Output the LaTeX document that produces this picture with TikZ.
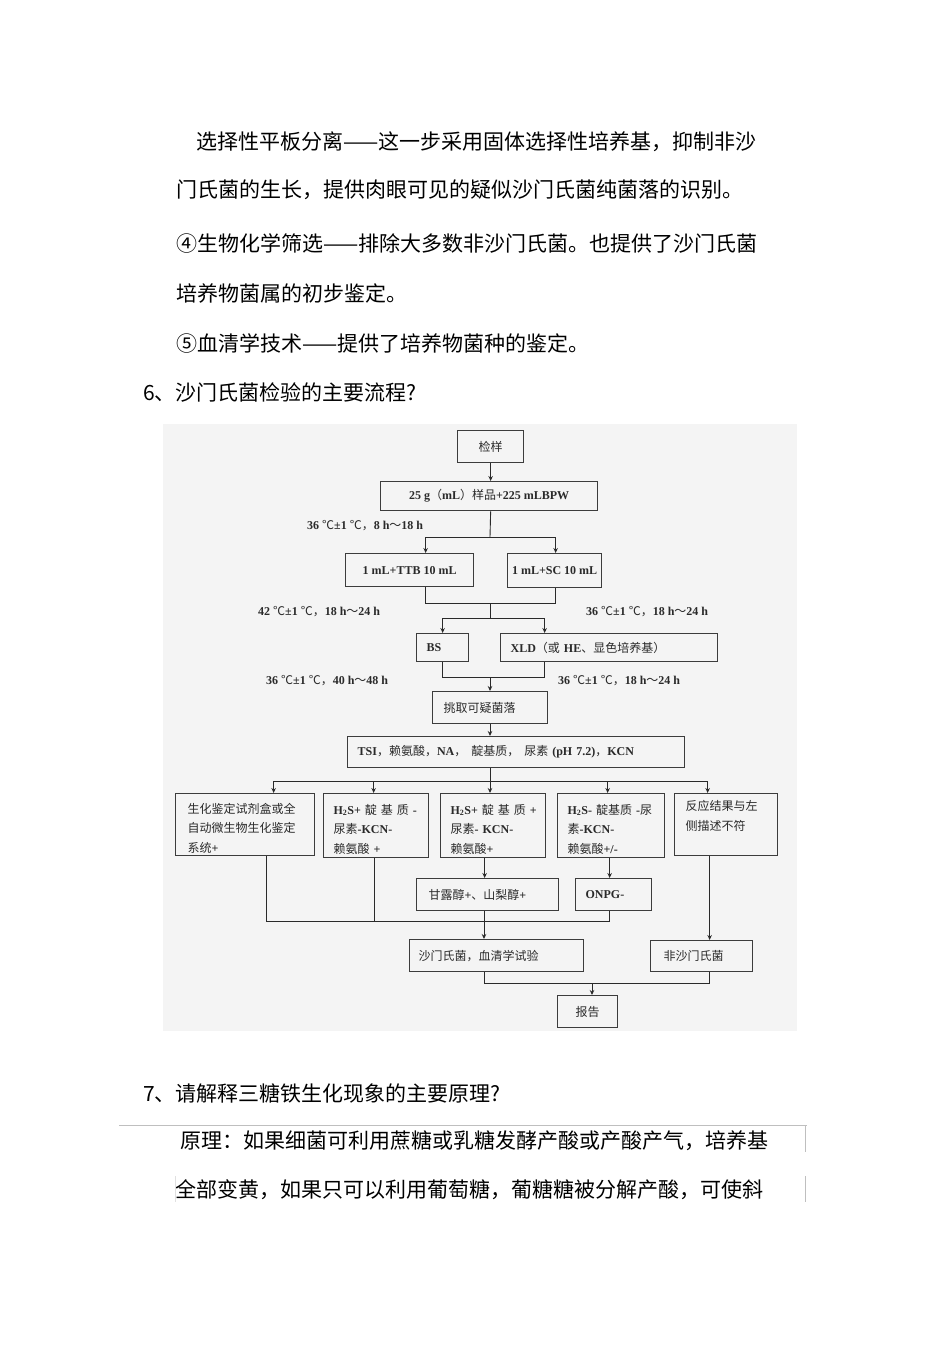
\documentclass[tikz,border=0pt]{standalone}
\usepackage{fontspec}
\setmainfont{Liberation Serif}
\newfontfamily\cjk{Noto Sans CJK SC}
\usetikzlibrary{arrows.meta}
\newcommand\zh[1]{{\cjk\mdseries #1}}
\newcommand\fcfont{\bfseries\fontsize{12}{19.5}\selectfont}
\newcommand\bodyfont{\cjk\fontsize{21}{21}\selectfont}
\newcommand\topgap{\rule{0pt}{17pt}}
\definecolor{txtc}{HTML}{2A2A2A}
\definecolor{boxc}{HTML}{3C3C3C}
\definecolor{linec}{HTML}{2A2A2A}
\definecolor{bgc}{HTML}{F4F4F4}
\tikzset{
  bodytxt/.style={font=\bodyfont, text=black, inner sep=0pt, anchor=west},
  fc/.style={font=\fcfont, text=txtc},
  box/.style={draw=boxc, line width=1.3pt, fc, inner sep=0pt, anchor=north west},
  lbox/.style={box, align=left},
  lbl/.style={fc, inner sep=0pt, anchor=west},
  conn/.style={draw=linec, line width=0.9pt},
  arr/.style={conn, -{Stealth[length=5pt,width=4.5pt]}},
}
\begin{document}
\begin{tikzpicture}[x=1pt,y=-1pt]
\useasboundingbox (0,0) rectangle (950,1345);
\fill[white] (0,0) rectangle (950,1345);

% body text
\node[bodytxt] (t1) at (196,142) {选择性平板分离——这一步采用固体选择性培养基，抑制非沙};
\node[bodytxt] (t2) at (176,190) {门氏菌的生长，提供肉眼可见的疑似沙门氏菌纯菌落的识别。};
\node[bodytxt] (t3) at (176,243) {④生物化学筛选——排除大多数非沙门氏菌。也提供了沙门氏菌};
\node[bodytxt] (t4) at (176,293) {培养物菌属的初步鉴定。};
\node[bodytxt] (t5) at (176,343) {⑤血清学技术——提供了培养物菌种的鉴定。};
\node[bodytxt] (t6) at (143,393) {6、沙门氏菌检验的主要流程?};
\node[bodytxt] (t7) at (143,1093) {7、请解释三糖铁生化现象的主要原理?};
\node[bodytxt] (t8) at (180,1141) {原理：如果细菌可利用蔗糖或乳糖发酵产酸或产酸产气，培养基};
\node[bodytxt] (t9) at (175,1190) {全部变黄，如果只可以利用葡萄糖，葡糖糖被分解产酸，可使斜};

\draw[black!25, line width=0.6pt] (119,1125) -- (807,1125);
\draw[black!25, line width=0.6pt] (805,1125) -- (805,1152);
\draw[black!25, line width=0.6pt] (805,1176) -- (805,1202);
\draw[black!12, line width=0.6pt] (175,1176) -- (175,1202);

% flowchart background
\fill[bgc] (163,424) rectangle (797,1031);

% boxes
\node[box, minimum width=66, minimum height=32] (jy) at (457,430) {\zh{检样}};
\node[box, minimum width=217, minimum height=29] (s25) at (380,481) {25 g\zh{（}mL\zh{）样品}+225 mLBPW};
\node[box, minimum width=128, minimum height=33] (ttb) at (345,553) {1 mL+TTB 10 mL};
\node[box, minimum width=94, minimum height=34] (sc) at (507,553) {1 mL+SC 10 mL};
\node[lbox, inner xsep=10pt, text width=32, minimum height=28] (bs) at (416,633) {BS};
\node[lbox, inner xsep=10pt, text width=197, minimum height=28] (xld) at (500,633) {XLD\zh{（或} HE\zh{、显色培养基）}};
\node[lbox, inner xsep=11pt, text width=93, minimum height=32] (tq) at (432,691) {\zh{挑取可疑菌落}};
\node[lbox, inner xsep=10pt, text width=317, minimum height=31] (tsi) at (347,736) {TSI\zh{，赖氨酸，}NA\zh{，}\hspace{5pt}\zh{靛基质，}\hspace{5pt}\zh{尿素} (pH 7.2)\zh{，}KCN};

\node[lbox, inner xsep=12pt, text width=115, minimum height=62] (b1) at (175,793)
  {\mbox{\topgap\zh{生化鉴定试剂盒或全}}\\\mbox{\zh{自动微生物生化鉴定}}\\\mbox{\zh{系统}+}};
\node[lbox, inner xsep=10pt, text width=85, minimum height=64] (b2) at (323,793)
  {\mbox{\topgap H\textsubscript{2}S+ \zh{靛 基 质} -}\\\mbox{\zh{尿素}-KCN-}\\\mbox{\zh{赖氨酸} +}};
\node[lbox, inner xsep=10pt, text width=85, minimum height=64] (b3) at (440,793)
  {\mbox{\topgap H\textsubscript{2}S+ \zh{靛 基 质} +}\\\mbox{\zh{尿素}- KCN-}\\\mbox{\zh{赖氨酸}+}};
\node[lbox, inner xsep=10pt, text width=87, minimum height=64] (b4) at (557,793)
  {\mbox{\topgap H\textsubscript{2}S- \zh{靛基质} -\zh{尿}}\\\mbox{\zh{素}-KCN-}\\\mbox{\zh{赖氨酸}+/-}};
\node[lbox, inner xsep=11pt, text width=81, minimum height=60] (b5) at (674,793)
  {\mbox{\topgap\zh{反应结果与左}}\\\mbox{\zh{侧描述不符}}\\\strut};

\node[lbox, inner xsep=12pt, text width=118, minimum height=32] (gl) at (416,878) {\zh{甘露醇}+\zh{、山梨醇}+};
\node[lbox, inner xsep=10pt, text width=56, minimum height=32] (onpg) at (575,878) {ONPG-};
\node[lbox, inner xsep=9pt, text width=156, minimum height=32] (sm) at (409,939) {\zh{沙门氏菌，血清学试验}};
\node[lbox, inner xsep=13pt, text width=76, minimum height=31] (fsm) at (650,940) {\zh{非沙门氏菌}};
\node[box, minimum width=60, minimum height=32] (bg) at (557,995) {\zh{报告}};

% labels
\node[lbl] (l1) at (307,526) {36 \zh{℃}±1 \zh{℃，}8 h\zh{～}18 h};
\node[lbl] (l2) at (258,612) {42 \zh{℃}±1 \zh{℃，}18 h\zh{～}24 h};
\node[lbl] (l3) at (586,612) {36 \zh{℃}±1 \zh{℃，}18 h\zh{～}24 h};
\node[lbl] (l4) at (266,681) {36 \zh{℃}±1 \zh{℃，}40 h\zh{～}48 h};
\node[lbl] (l5) at (558,681) {36 \zh{℃}±1 \zh{℃，}18 h\zh{～}24 h};

% connectors
\coordinate (j1) at (490,537);
\coordinate (j2) at (490,603);
\coordinate (j3) at (490,618);
\coordinate (j4) at (490,677);
\coordinate (j5) at (490,781);
\coordinate (j6) at (484,921);
\coordinate (j7) at (592,983);

\draw[arr] (jy.south) -- (jy.south |- s25.north);
\draw[conn] (jy.south |- s25.south) -- (j1);
\draw[arr] (j1) -| ([xshift=16pt]ttb.north);
\draw[arr] (j1) -| ([xshift=1pt]sc.north);
\draw[conn] ([xshift=16pt]ttb.south) |- (j2) -| ([xshift=1pt]sc.south);
\draw[conn] (j2) -- (j3);
\draw[arr] (j3) -| (bs.north);
\draw[arr] (j3) -| ([xshift=-64.5pt]xld.north);
\draw[conn] (bs.south) |- (j4) -| ([xshift=-64.5pt]xld.south);
\draw[arr] (j4) -- (j4 |- tq.north);
\draw[arr] (j4 |- tq.south) -- (j4 |- tsi.north);
\draw[conn] (j4 |- tsi.south) -- (j5);
\draw[arr] (j5) -| ([xshift=28.5pt]b1.north);
\draw[arr] (j5) -| ([xshift=-2.5pt]b2.north);
\draw[arr] (j5) -- (j5 |- b3.north);
\draw[arr] (j5) -| ([xshift=-3.5pt]b4.north);
\draw[arr] (j5) -| ([xshift=-18.5pt]b5.north);

\draw[conn] ([xshift=21.5pt]b1.south) |- ([xshift=-1.5pt]b4.south |- j6) -- ([xshift=-1.5pt]b4.south |- onpg.south);
\draw[conn] ([xshift=-1.5pt]b2.south) -- ([xshift=-1.5pt]b2.south |- j6);
\draw[arr] ([xshift=-8.5pt]b3.south) -- ([xshift=-8.5pt]b3.south |- gl.north);
\draw[arr] ([xshift=-1.5pt]b4.south) -- ([xshift=-1.5pt]b4.south |- onpg.north);
\draw[arr] ([xshift=-16.5pt]b5.south) -- ([xshift=-16.5pt]b5.south |- fsm.north);
\draw[arr] (j6 |- gl.south) -- (j6 |- sm.north);
\draw[conn] (j6 |- sm.south) |- (j7) -| ([xshift=8pt]fsm.south);
\draw[arr] (j7) -- (j7 |- bg.north);
\end{tikzpicture}
\end{document}
